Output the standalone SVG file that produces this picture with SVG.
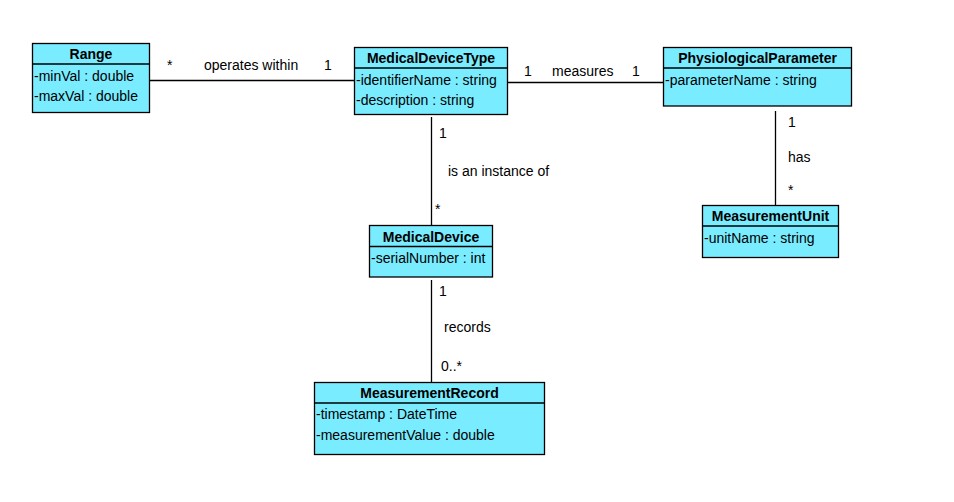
<svg xmlns="http://www.w3.org/2000/svg" width="954" height="502" viewBox="0 0 954 502">
<style>
.box{fill:#7AECFF;stroke:#000;stroke-width:1.3}
.sep{stroke:#000;stroke-width:1.3}
.t{font-family:"Liberation Sans",Arial,sans-serif;font-size:14px;fill:#000}
.h{font-weight:bold;text-anchor:middle}
.c{stroke:#000;stroke-width:1.3;fill:none}
</style>
<rect width="954" height="502" fill="#fff"/>
<g id="connectors">
<line class="c" x1="149" y1="80.5" x2="354" y2="80.5"/>
<line class="c" x1="508" y1="82.5" x2="663" y2="82.5"/>
<line class="c" x1="775.5" y1="111" x2="775.5" y2="205"/>
<line class="c" x1="431.5" y1="117" x2="431.5" y2="226"/>
<line class="c" x1="431.5" y1="280" x2="431.5" y2="382"/>
<text class="t" x="167" y="70">*</text>
<text class="t" x="204" y="70">operates within</text>
<text class="t" x="324" y="70">1</text>
<text class="t" x="524" y="76">1</text>
<text class="t" x="552" y="76">measures</text>
<text class="t" x="632" y="76">1</text>
<text class="t" x="788" y="127">1</text>
<text class="t" x="788" y="162">has</text>
<text class="t" x="788" y="195">*</text>
<text class="t" x="439" y="138">1</text>
<text class="t" x="448" y="176">is an instance of</text>
<text class="t" x="435" y="214">*</text>
<text class="t" x="439" y="296">1</text>
<text class="t" x="444" y="332">records</text>
<text class="t" x="441" y="371">0..*</text>
</g>
<g id="Range">
<rect class="box" x="32.5" y="43.5" width="117" height="69"/>
<line class="sep" x1="32.5" y1="64" x2="149.5" y2="64"/>
<text class="t h" x="91" y="59">Range</text>
<text class="t" x="34" y="81">-minVal : double</text>
<text class="t" x="34" y="101">-maxVal : double</text>
</g>
<g id="MedicalDeviceType">
<rect class="box" x="354.5" y="47.5" width="153" height="67"/>
<line class="sep" x1="354.5" y1="68" x2="507.5" y2="68"/>
<text class="t h" x="431" y="63">MedicalDeviceType</text>
<text class="t" x="356" y="85">-identifierName : string</text>
<text class="t" x="356" y="105">-description : string</text>
</g>
<g id="PhysiologicalParameter">
<rect class="box" x="663.5" y="47.5" width="188" height="58.5"/>
<line class="sep" x1="663.5" y1="68" x2="851.5" y2="68"/>
<text class="t h" x="757.5" y="63">PhysiologicalParameter</text>
<text class="t" x="665" y="85">-parameterName : string</text>
</g>
<g id="MeasurementUnit">
<rect class="box" x="702.5" y="205.5" width="136" height="52"/>
<line class="sep" x1="702.5" y1="226" x2="838.5" y2="226"/>
<text class="t h" x="770.5" y="221">MeasurementUnit</text>
<text class="t" x="704" y="243">-unitName : string</text>
</g>
<g id="MedicalDevice">
<rect class="box" x="369.5" y="225.5" width="123" height="51.5"/>
<line class="sep" x1="369.5" y1="246.5" x2="492.5" y2="246.5"/>
<text class="t h" x="431" y="241.5">MedicalDevice</text>
<text class="t" x="371" y="263">-serialNumber : int</text>
</g>
<g id="MeasurementRecord">
<rect class="box" x="314.5" y="382.5" width="230" height="72"/>
<line class="sep" x1="314.5" y1="403" x2="544.5" y2="403"/>
<text class="t h" x="429.5" y="398">MeasurementRecord</text>
<text class="t" x="316" y="419">-timestamp : DateTime</text>
<text class="t" x="316" y="440">-measurementValue : double</text>
</g>
</svg>
